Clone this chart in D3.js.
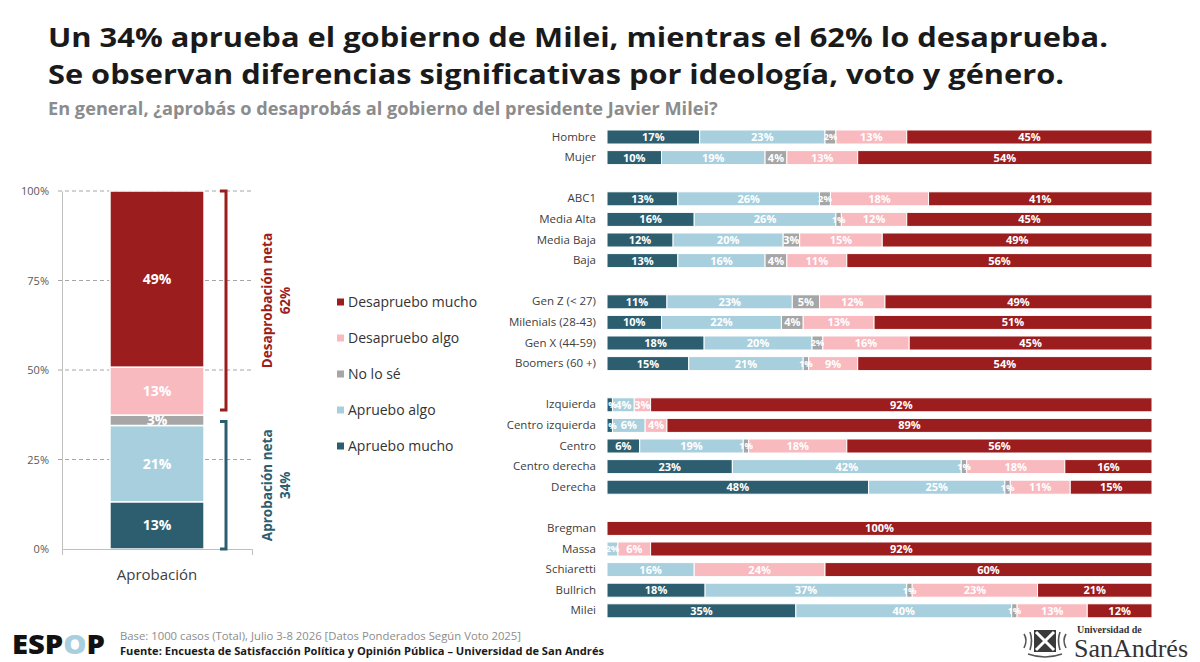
<!DOCTYPE html>
<html><head><meta charset="utf-8">
<script src="https://cdn.jsdelivr.net/npm/d3@7"></script>
<style>
html,body{margin:0;padding:0;background:#fff;}
svg{display:block;font-family:"Open Sans",sans-serif;}
</style></head>
<body>
<svg id="chart" width="1200" height="662"></svg>
<script>
// ---------- DATA ----------
const seriesNames = ["Apruebo mucho","Apruebo algo","No lo sé","Desapruebo algo","Desapruebo mucho"];
const seriesColors = ["#2D5E70","#A8CFDE","#A6A6A6","#F8B9BF","#9C1D1D"];
const legendOrder = ["Desapruebo mucho","Desapruebo algo","No lo sé","Apruebo algo","Apruebo mucho"];

const groupGenero = ["Hombre","Mujer"];
const groupNSE = ["ABC1","Media Alta","Media Baja","Baja"];
const groupEdad = ["Gen Z (< 27)","Milenials (28-43)","Gen X (44-59)","Boomers (60 +)"];
const groupIdeologia = ["Izquierda","Centro izquierda","Centro","Centro derecha","Derecha"];
const groupVoto = ["Bregman","Massa","Schiaretti","Bullrich","Milei"];

const aprueboMucho    = [17,10, 13,16,12,13, 11,10,18,15, 1,1,6,23,48, 0,0,0,18,35];
const aprueboAlgo     = [23,19, 26,26,20,16, 23,22,20,21, 4,6,19,42,25, 0,2,16,37,40];
const noLoSe          = [ 2, 4,  2, 1, 3, 4,  5, 4, 2, 1, 0,0,1,1,1,   0,0,0,1,1];
const desapruebaAlgo  = [13,13, 18,12,15,11, 12,13,16, 9, 3,4,18,18,11, 0,6,24,23,13];
const desapruebaMucho = [45,54, 41,45,49,56, 49,51,45,54, 92,89,56,16,15, 100,92,60,21,12];

const totalCategory = "Aprobación";
const totalValues = [13.2,21.3,2.9,13.4,49.2];   // estimated, labels rounded
const totalLabels = ["13%","21%","3%","13%","49%"];
const netDesap = "62%";
const netAprob = "34%";
const yTicks = [0,25,50,75,100];

// ---------- SETUP ----------
const svg = d3.select("#chart");
const groups = [groupGenero,groupNSE,groupEdad,groupIdeologia,groupVoto];
const rowNames = groups.flat();
const slots = [];
groups.forEach((g,i)=>{ if(i>0) slots.push("__gap"+i); g.forEach(n=>slots.push(n)); });

const rows = rowNames.map((n,i)=>({
  name:n,
  "Apruebo mucho":aprueboMucho[i],
  "Apruebo algo":aprueboAlgo[i],
  "No lo sé":noLoSe[i],
  "Desapruebo algo":desapruebaAlgo[i],
  "Desapruebo mucho":desapruebaMucho[i]
}));
const color = d3.scaleOrdinal().domain(seriesNames).range(seriesColors);

function fitWidth(sel, target){
  const w = sel.node().getComputedTextLength();
  const fs = parseFloat(sel.attr("font-size"));
  sel.attr("font-size", fs*target/w);
  return fs*target/w;
}

// ---------- TITLES ----------
svg.append("text").attr("x",48).attr("y",46.5).attr("font-size",26.5).attr("font-weight",700)
  .attr("fill","#1a1a1a").attr("textLength",1060).attr("lengthAdjust","spacingAndGlyphs")
  .text("Un 34% aprueba el gobierno de Milei, mientras el 62% lo desaprueba.");
svg.append("text").attr("x",48).attr("y",84).attr("font-size",26.5).attr("font-weight",700)
  .attr("fill","#1a1a1a").attr("textLength",1016).attr("lengthAdjust","spacingAndGlyphs")
  .text("Se observan diferencias significativas por ideología, voto y género.");
const st = svg.append("text").attr("x",48).attr("y",114.5).attr("font-size",16).attr("font-weight",700)
  .attr("fill","#8C8C8C").text("En general, ¿aprobás o desaprobás al gobierno del presidente Javier Milei?");
fitWidth(st, 670);

// ---------- RIGHT STACKED BARS ----------
const x = d3.scaleLinear().domain([0,1]).range([607,1152]);
const y = d3.scaleBand().domain(slots).range([126.7,621.1]).paddingInner(0.32).paddingOuter(0.16);
const stack = d3.stack().keys(seriesNames).offset(d3.stackOffsetExpand);
const stacked = stack(rows);

const gR = svg.append("g");
const layers = gR.selectAll("g.layer").data(stacked).join("g").attr("class","layer")
  .attr("fill",d=>color(d.key));
layers.selectAll("rect").data(d=>d.filter(p=>p[1]-p[0]>0)).join("rect")
  .attr("x",d=>x(d[0])).attr("y",d=>y(d.data.name))
  .attr("width",d=>x(d[1])-x(d[0])).attr("height",y.bandwidth())
  .attr("stroke","#fff").attr("stroke-width",1);

const labelG = svg.append("g").attr("font-size",11).attr("font-weight",700).attr("fill","#fff")
  .attr("text-anchor","middle");
stacked.forEach(layer=>{
  layer.forEach(p=>{
    const v = p.data[layer.key];
    if(v>0){
      const w = x(p[1])-x(p[0]);
      labelG.append("text").attr("x",(x(p[0])+x(p[1]))/2)
        .attr("y",y(p.data.name)+y.bandwidth()/2).attr("dy","0.36em")
        .attr("font-size", w < 12 ? 9.5 : 11)
        .text(v+"%");
    }
  });
});

const axisR = d3.axisLeft(y).tickValues(rowNames).tickSize(0).tickPadding(11);
const gAx = svg.append("g").attr("transform","translate(607,0)").call(axisR);
gAx.select(".domain").remove();
gAx.selectAll("text").attr("font-size",11.5).attr("fill","#404040").attr("font-family","Open Sans");

// ---------- LEFT TOTAL BAR ----------
const yL = d3.scaleLinear().domain([0,100]).range([549,191]);
const xL = d3.scaleBand().domain([totalCategory]).range([62,252]).paddingInner(0).paddingOuter(0.51);

// gridlines
svg.append("g").selectAll("line").data(yTicks.filter(t=>t>0)).join("line")
  .attr("x1",58).attr("x2",252).attr("y1",d=>yL(d)).attr("y2",d=>yL(d))
  .attr("stroke","#A6A6A6").attr("stroke-width",1).attr("stroke-dasharray","4,3");

const totalRow = {name:totalCategory};
seriesNames.forEach((k,i)=>totalRow[k]=totalValues[i]);
const stackedL = d3.stack().keys(seriesNames)([totalRow]);
svg.append("g").selectAll("rect").data(stackedL).join("rect")
  .attr("x",xL(totalCategory)).attr("width",xL.bandwidth())
  .attr("y",d=>yL(d[0][1])).attr("height",d=>yL(d[0][0])-yL(d[0][1]))
  .attr("fill",d=>color(d.key)).attr("stroke","#fff").attr("stroke-width",1.5);
svg.append("g").selectAll("text").data(stackedL).join("text")
  .attr("x",xL(totalCategory)+xL.bandwidth()/2)
  .attr("y",d=>(yL(d[0][0])+yL(d[0][1]))/2).attr("dy","0.36em")
  .attr("text-anchor","middle").attr("font-size",14).attr("font-weight",700).attr("fill","#fff")
  .text((d,i)=>totalLabels[i]);

const axL = svg.append("g").attr("transform","translate(62,0)")
  .call(d3.axisLeft(yL).tickValues(yTicks).tickFormat(d=>d+"%").tickSize(0).tickPadding(13));
axL.select(".domain").attr("stroke","#BFBFBF");
axL.selectAll("text").attr("font-size",11).attr("fill","#595959").attr("font-family","Open Sans");

const axB = svg.append("g").attr("transform","translate(0,549)")
  .call(d3.axisBottom(xL).tickSizeInner(0).tickSizeOuter(6).tickPadding(20));
axB.select(".domain").attr("stroke","#BFBFBF");
axB.selectAll("text").attr("font-size",15).attr("fill","#404040").attr("font-family","Open Sans");

// brackets
const redC = seriesColors[4], tealC = seriesColors[0];
const bx = 226;
svg.append("path").attr("d",`M220,${yL(100)} H${bx} V${yL(38.8)} H220`)
  .attr("fill","none").attr("stroke",redC).attr("stroke-width",3);
svg.append("path").attr("d",`M220,${yL(35.6)} H${bx} V${yL(0)} H220`)
  .attr("fill","none").attr("stroke",tealC).attr("stroke-width",3);

function vLabel(cx, cy, txt, col){
  svg.append("text").attr("transform",`translate(${cx},${cy}) rotate(-90)`)
    .attr("text-anchor","middle").attr("dy","0.36em").attr("font-size",13.5).attr("font-weight",700)
    .attr("fill",col).text(txt);
}
const midD = (yL(100)+yL(38.8))/2, midA = (yL(35.6)+yL(0))/2;
vLabel(267, midD, "Desaprobación neta", redC);
vLabel(285, midD, netDesap, redC);
vLabel(267, midA, "Aprobación neta", tealC);
vLabel(285, midA, netAprob, tealC);

// legend
const leg = svg.append("g").selectAll("g").data(legendOrder).join("g")
  .attr("transform",(d,i)=>`translate(337,${302+i*36})`);
leg.append("rect").attr("x",0).attr("y",-3.5).attr("width",7).attr("height",7).attr("fill",d=>color(d));
leg.append("text").attr("x",11).attr("dy","0.36em").attr("font-size",14).attr("fill","#333").text(d=>d);

// ---------- FOOTER ----------
const logo = svg.append("text").attr("x",12).attr("y",654).attr("font-size",26).attr("font-weight",800)
  .attr("fill","#111").attr("textLength",93).attr("lengthAdjust","spacingAndGlyphs");
logo.append("tspan").text("ESP");
logo.append("tspan").attr("fill","#A8CFDE").text("O");
logo.append("tspan").text("P");

svg.append("text").attr("x",120).attr("y",640).attr("font-size",11).attr("fill","#8C8C8C")
  .attr("textLength",401).attr("lengthAdjust","spacingAndGlyphs")
  .text("Base: 1000 casos (Total), Julio 3-8 2026 [Datos Ponderados Según Voto 2025]");
svg.append("text").attr("x",120).attr("y",655).attr("font-size",11).attr("font-weight",700).attr("fill","#1a1a1a")
  .attr("textLength",484).attr("lengthAdjust","spacingAndGlyphs")
  .text("Fuente: Encuesta de Satisfacción Política y Opinión Pública – Universidad de San Andrés");

// San Andrés logo
const crest = svg.append("g").attr("transform","translate(1022,628)");
crest.append("rect").attr("x",12).attr("y",2).attr("width",22).attr("height",22).attr("fill","#3a3a3a");
crest.append("path").attr("d","M14,4 L32,22 M32,4 L14,22").attr("stroke","#fff").attr("stroke-width",3);
crest.append("path").attr("d","M2,6 q4,6 0,14 M8,4 q3,8 0,18 M44,6 q-4,6 0,14 M38,4 q-3,8 0,18")
  .attr("fill","none").attr("stroke","#555").attr("stroke-width",1.6);
crest.append("path").attr("d","M6,26 Q23,32 40,26").attr("fill","none").attr("stroke","#555").attr("stroke-width",1.5);
svg.append("text").attr("x",1077).attr("y",633).attr("font-family","Liberation Serif, serif")
  .attr("font-size",10).attr("font-weight",700).attr("fill","#333").text("Universidad de");
svg.append("text").attr("x",1074).attr("y",657).attr("font-family","Liberation Serif, serif")
  .attr("font-size",25).attr("fill","#333").attr("textLength",114).attr("lengthAdjust","spacingAndGlyphs")
  .text("SanAndrés");
</script>
</body></html>
